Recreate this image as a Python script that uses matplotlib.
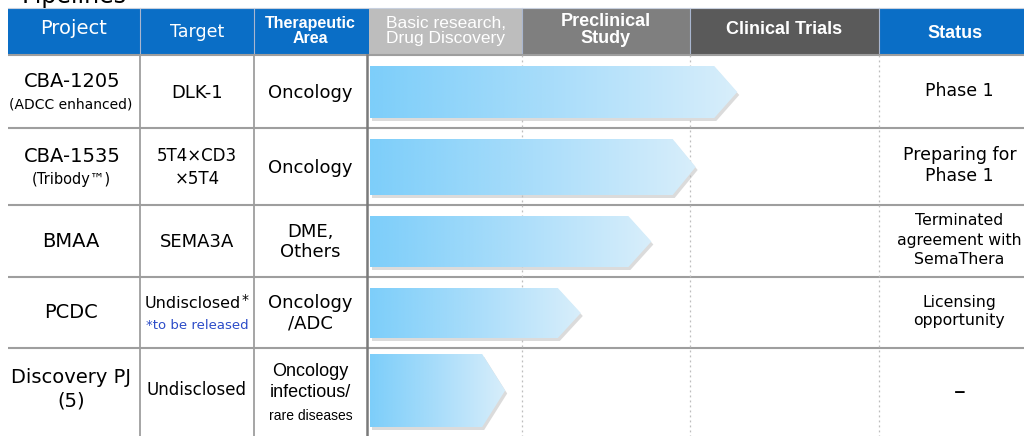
import numpy as np
import matplotlib
matplotlib.use("Agg")
import matplotlib.pyplot as plt
from matplotlib.patches import Polygon, Rectangle
from matplotlib.colors import LinearSegmentedColormap
from matplotlib import font_manager

# ---------------- data ----------------
projects = ["CBA-1205", "CBA-1535", "BMAA", "PCDC", "Discovery PJ\n(5)"]
project_notes = ["(ADCC enhanced)", "(Tribody™)", "", "", ""]
targets = ["DLK-1", "5T4×CD3\n×5T4", "SEMA3A", "Undisclosed", "Undisclosed"]
areas = ["Oncology", "Oncology", "DME,\nOthers", "Oncology\n/ADC", "Oncology\ninfectious/"]
progress = [2.25, 2.03, 1.77, 1.35, 0.89]   # stage units: 0=start, 1=end basic, 2=end preclinical, 3=end clinical
statuses = ["Phase 1", "Preparing for\nPhase 1", "Terminated\nagreement with\nSemaThera",
            "Licensing\nopportunity", "–"]
stages = ["Basic research,\nDrug Discovery", "Preclinical\nStudy", "Clinical Trials"]
headers = ["Project", "Target", "Therapeutic\nArea"]
status_header = "Status"

# ---------------- layout ----------------
W, H = 1024, 436
col_edges = [8, 140, 254, 367]
stage_edges = [369, 522, 690, 879]
right_edge = 1024
row_edges = [55, 128, 205, 277, 348, 436]
head_top, head_bot = 8, 54

BLUE = "#0A6EC6"
STAGE_COLORS = ["#BDBDBD", "#7F7F7F", "#5A5A5A"]
GRID = "#9E9E9E"

def has_font(name):
    try:
        font_manager.findfont(font_manager.FontProperties(family=name), fallback_to_default=False)
        return True
    except Exception:
        return False

NARROW = "Liberation Sans Narrow" if has_font("Liberation Sans Narrow") else "Liberation Sans"
ARIAL = "Liberation Sans"
BODY = "DejaVu Sans"

fig = plt.figure(figsize=(W / 100, H / 100), dpi=100)
ax = fig.add_axes([0, 0, 1, 1])
ax.set_xlim(0, W)
ax.set_ylim(H, 0)
ax.axis("off")

# partially visible title (cut at the top edge, as in the reference)
ax.text(22, -4, "Pipelines", fontsize=17, family=BODY, va="center", ha="left", color="black", clip_on=False)

# header cells
for i, h in enumerate(headers):
    ax.add_patch(Rectangle((col_edges[i], head_top), col_edges[i + 1] - col_edges[i], head_bot - head_top,
                           facecolor=BLUE, edgecolor="none"))
for i, s in enumerate(stages):
    ax.add_patch(Rectangle((stage_edges[i], head_top), stage_edges[i + 1] - stage_edges[i], head_bot - head_top,
                           facecolor=STAGE_COLORS[i], edgecolor="none"))
ax.add_patch(Rectangle((col_edges[3], head_top), stage_edges[0] - col_edges[3], head_bot - head_top,
                       facecolor=BLUE, edgecolor="none"))
ax.add_patch(Rectangle((stage_edges[3], head_top), right_edge - stage_edges[3], head_bot - head_top,
                       facecolor=BLUE, edgecolor="none"))
# header separators
for x in col_edges[1:3] + stage_edges[1:]:
    ax.plot([x, x], [head_top, head_bot], color="#A9B6CF", lw=0.8)
ax.plot([col_edges[0], right_edge], [head_top, head_top], color="#C8D0DE", lw=0.8)

hy = (head_top + head_bot) / 2
ax.text((col_edges[0] + col_edges[1]) / 2, hy - 3, headers[0], color="white", fontsize=14, family=BODY,
        ha="center", va="center")
ax.text((col_edges[1] + col_edges[2]) / 2, hy + 1, headers[1], color="white", fontsize=12.5, family=BODY,
        ha="center", va="center")
ax.text((col_edges[2] + col_edges[3]) / 2, hy, headers[2], color="white", fontsize=11.5, family=NARROW,
        weight="bold", ha="center", va="center", linespacing=1.05)
ax.text((stage_edges[0] + stage_edges[1]) / 2, hy, stages[0], color="white", fontsize=12.5, family=NARROW,
        ha="center", va="center", linespacing=1.05)
ax.text((stage_edges[1] + stage_edges[2]) / 2, hy - 1, stages[1], color="white", fontsize=13, family=ARIAL,
        weight="bold", ha="center", va="center", linespacing=1.05)
ax.text((stage_edges[2] + stage_edges[3]) / 2, hy - 1, stages[2], color="white", fontsize=13, family=ARIAL,
        weight="bold", ha="center", va="center")
ax.text((stage_edges[3] + right_edge) / 2 + 4, hy + 2, status_header, color="white", fontsize=13, family=ARIAL,
        weight="bold", ha="center", va="center")

# grid lines
for y in row_edges[:-1]:
    ax.plot([col_edges[0], right_edge], [y, y], color=GRID, lw=1.5, solid_capstyle="butt")
for x in col_edges[1:3]:
    ax.plot([x, x], [row_edges[0], H], color=GRID, lw=1.3)
ax.plot([col_edges[3], col_edges[3]], [row_edges[0], H], color="#7A7A7A", lw=1.8)
for x in stage_edges[1:]:
    ax.plot([x, x], [row_edges[0], H], color="#BDBDBD", lw=0.9, ls=(0, (1.5, 2.5)))

# arrows with gradient
cmap = LinearSegmentedColormap.from_list("arr", ["#7DCEFA", "#A9DDFA", "#D8EEFB"])
grad = np.linspace(0, 1, 256).reshape(1, -1)
tip_x = np.interp(progress, [0, 1, 2, 3], stage_edges)
for i, tx in enumerate(tip_x):
    top = row_edges[i] + 11
    bot = row_edges[i + 1] - 10
    if i == len(tip_x) - 1:
        top = row_edges[i] + 6
        bot = row_edges[i] + 79
    mid = (top + bot) / 2
    head = 23
    x0 = stage_edges[0] + 1
    pts = [(x0, top), (tx - head, top), (tx, mid), (tx - head, bot), (x0, bot)]
    shadow = Polygon([(x + 2, y + 3) for x, y in pts], closed=True, facecolor="#9A9A9A", edgecolor="none",
                     alpha=0.35)
    ax.add_patch(shadow)
    poly = Polygon(pts, closed=True, facecolor="none", edgecolor="none")
    ax.add_patch(poly)
    im = ax.imshow(grad, cmap=cmap, aspect="auto", extent=[x0, tx, bot, top], interpolation="bicubic", zorder=3)
    im.set_clip_path(poly)

ax.set_xlim(0, W)
ax.set_ylim(H, 0)

# table text
cx_proj = (col_edges[0] + col_edges[1]) / 2 - 3
cx_tgt = (col_edges[1] + col_edges[2]) / 2
cx_area = (col_edges[2] + col_edges[3]) / 2
cx_stat = (stage_edges[3] + right_edge) / 2 + 8
for i in range(len(projects)):
    cy = (row_edges[i] + row_edges[i + 1]) / 2
    if i == len(projects) - 1:
        cy = (row_edges[i] + 436) / 2 - 3
    note = project_notes[i]
    if note:
        ax.text(cx_proj + 1, cy - 10, projects[i], fontsize=14, family=BODY, ha="center", va="center")
        ax.text(cx_proj, cy + 13, note, fontsize=10 if i == 0 else 10.5, family=BODY, ha="center", va="center")
    else:
        ax.text(cx_proj, cy, projects[i], fontsize=14, family=BODY, ha="center", va="center", linespacing=1.3)

    if i == 3:
        ax.text(cx_tgt - 4, cy - 9, targets[i], fontsize=11.5, family=BODY, ha="center", va="center")
        ax.text(cx_tgt + 48, cy - 13, "*", fontsize=10, family=BODY, ha="center", va="center")
        ax.text(cx_tgt, cy + 13, "*to be released", fontsize=9.5, family=BODY, ha="center", va="center",
                color="#2C4CC8")
    else:
        ax.text(cx_tgt, cy + 1, targets[i], fontsize=12 if i in (1, 4) else 13, family=BODY, ha="center",
                va="center", linespacing=1.3)

    if i == len(projects) - 1:
        ax.text(cx_area, cy - 7, areas[i], fontsize=13, family=NARROW, ha="center", va="center",
                linespacing=1.35)
        ax.text(cx_area, cy + 27, "rare diseases", fontsize=10, family=NARROW, ha="center", va="center")
    else:
        ax.text(cx_area, cy + 1, areas[i], fontsize=13, family=BODY, ha="center", va="center",
                linespacing=1.2)

    if i == 4:
        ax.text(cx_stat, cy + 3, statuses[i], fontsize=17, family=BODY, ha="center", va="center")
    else:
        ax.text(cx_stat, cy - 1, statuses[i], fontsize=12.5 if i in (0, 1) else 11.3,
                family=BODY, ha="center", va="center", linespacing=1.25 if i != 2 else 1.35)

fig.savefig("out.png", dpi=100)
